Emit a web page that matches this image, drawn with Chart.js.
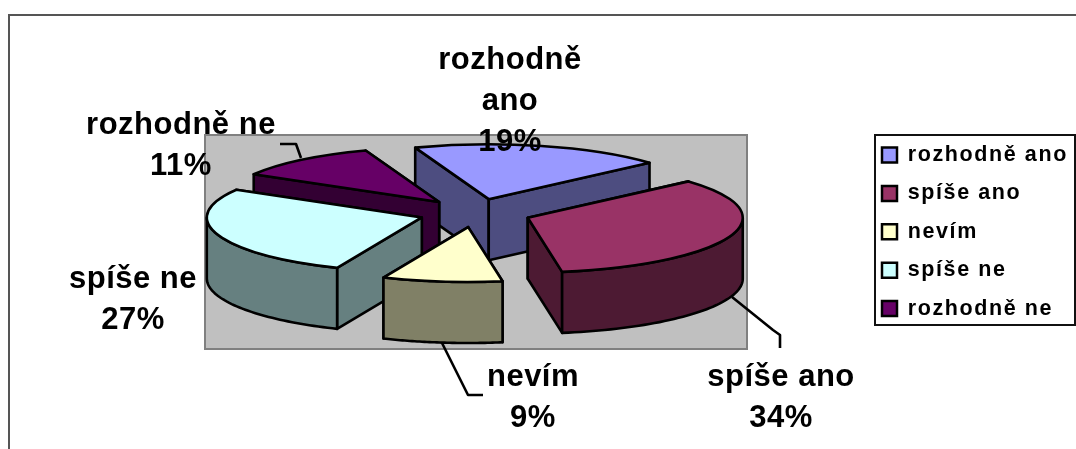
<!DOCTYPE html>
<html lang="cs">
<head>
<meta charset="utf-8">
<style>html,body{margin:0;padding:0;background:#fff}canvas{display:block}</style>
<script src="https://cdn.jsdelivr.net/npm/chart.js@4"></script>
</head>
<body>
<canvas id="c" width="1076" height="449"></canvas>
<script>
const categories = ['rozhodně ano', 'spíše ano', 'nevím', 'spíše ne', 'rozhodně ne'];
const percents = [19, 34, 9, 27, 11];
const topColors = ['#9999FF', '#993366', '#FFFFCC', '#CCFFFF', '#660066'];
const sideColors = ['#4D4D80', '#4D1A33', '#808066', '#668080', '#330033'];

// view of the tilted, exploded pie
const VIEW = { cx: 475, cy: 213, tilt: 0.255, radius: 215, explode: 56, depth: 61, rotation: -20 };
const FONT = '"Liberation Sans", Arial, sans-serif';
const labelLayout = [
  { x: 510, y: 60, lines: ['rozhodně', 'ano'] },
  { x: 781, y: 377, lines: ['spíše ano'] },
  { x: 533, y: 377, lines: ['nevím'] },
  { x: 133, y: 279, lines: ['spíše ne'] },
  { x: 181, y: 125, lines: ['rozhodně ne'] }
];
const leaders = [
  [[732, 297], [773, 330], [780, 335], [780, 348]],
  [[442, 343], [468, 395], [483, 395]],
  [[280, 144], [296, 144], [301, 158]]
];
const LINE = 2.6;

const k = VIEW.tilt;
const project = (x, y, drop) => [x, y * k + (drop || 0)];

function drawWall(ctx, arc, color) {
  const { x, y, startAngle: a0, endAngle: a1, outerRadius: r } = arc;
  ctx.fillStyle = color;
  ctx.strokeStyle = '#000';
  ctx.lineWidth = LINE;
  ctx.lineJoin = 'round';
  const poly = pts => {
    ctx.beginPath();
    pts.forEach((p, i) => i ? ctx.lineTo(p[0], p[1]) : ctx.moveTo(p[0], p[1]));
    ctx.closePath(); ctx.fill(); ctx.stroke();
  };
  // flat cut faces, the one further back first
  [a0, a1].sort((p, q) => Math.sin(p) - Math.sin(q)).forEach(a => {
    const rx = x + r * Math.cos(a), ry = y + r * Math.sin(a);
    poly([project(x, y), project(rx, ry), project(rx, ry, VIEW.depth), project(x, y, VIEW.depth)]);
  });
  // outer curved wall: only the part that faces the viewer
  for (const [lo, hi] of [[0, Math.PI], [2 * Math.PI, 3 * Math.PI]]) {
    const s = Math.max(a0, lo), e = Math.min(a1, hi);
    if (e <= s) continue;
    const top = [], bottom = [];
    for (let i = 0; i <= 48; i++) {
      const a = s + (e - s) * i / 48;
      const px = x + r * Math.cos(a), py = y + r * Math.sin(a);
      top.push(project(px, py));
      bottom.unshift(project(px, py, VIEW.depth));
    }
    poly(top.concat(bottom));
  }
}

const pie3d = {
  id: 'pie3d',
  afterLayout(chart) {
    chart.legend.left = 865.1;
    chart.legend.top = 127.35;
    chart.legend.right = 1076;
    chart.legend.bottom = 449;
  },
  afterDatasetsUpdate(chart) {
    chart.getDatasetMeta(0).data.forEach(arc => {
      const mid = (arc.startAngle + arc.endAngle) / 2;
      arc.x = VIEW.cx + VIEW.explode * Math.cos(mid);
      arc.y = VIEW.cy / k + VIEW.explode * Math.sin(mid);
    });
  },
  beforeDraw(chart) {
    const ctx = chart.ctx;
    // outer frame
    ctx.fillStyle = '#555';
    ctx.fillRect(8, 14, 1068, 2);
    ctx.fillRect(8, 14, 2, 435);
    // legend frame
    ctx.strokeStyle = '#111';
    ctx.lineWidth = 2;
    ctx.strokeRect(875, 135, 200, 190);
    ctx.letterSpacing = '1.6px';
  },
  beforeDatasetsDraw(chart) {
    const ctx = chart.ctx;
    ctx.letterSpacing = '0px';
    // plot wall
    ctx.fillStyle = '#C0C0C0';
    ctx.strokeStyle = '#808080';
    ctx.lineWidth = 2;
    ctx.fillRect(205, 135, 542, 214);
    ctx.strokeRect(205, 135, 542, 214);
    const arcs = chart.getDatasetMeta(0).data;
    arcs.map((arc, i) => ({ arc, i }))
      .sort((a, b) => a.arc.y - b.arc.y)
      .forEach(({ arc, i }) => drawWall(ctx, arc, sideColors[i]));
    ctx.save();
    ctx.scale(1, k);
  },
  afterDatasetsDraw(chart) {
    const ctx = chart.ctx;
    ctx.restore();
    ctx.strokeStyle = '#000';
    ctx.lineWidth = LINE;
    ctx.lineJoin = 'round';
    chart.getDatasetMeta(0).data.forEach(arc => {
      ctx.save();
      ctx.scale(1, k);
      ctx.beginPath();
      ctx.moveTo(arc.x, arc.y);
      ctx.arc(arc.x, arc.y, arc.outerRadius, arc.startAngle, arc.endAngle);
      ctx.closePath();
      ctx.restore();
      ctx.stroke();
    });
    leaders.forEach(l => {
      ctx.beginPath();
      l.forEach((p, i) => i ? ctx.lineTo(p[0], p[1]) : ctx.moveTo(p[0], p[1]));
      ctx.stroke();
    });
    ctx.fillStyle = '#000';
    ctx.font = 'bold 31px ' + FONT;
    ctx.textAlign = 'center';
    ctx.textBaseline = 'middle';
    ctx.letterSpacing = '0.5px';
    labelLayout.forEach((l, i) => {
      const lines = l.lines.concat([percents[i] + '%']);
      lines.forEach((t, j) => ctx.fillText(t, l.x, l.y + j * 41.3));
    });
    ctx.letterSpacing = '0px';
  }
};

new Chart(document.getElementById('c'), {
  type: 'pie',
  data: {
    labels: categories,
    datasets: [{ data: percents, backgroundColor: topColors, borderWidth: 0, clip: false }]
  },
  options: {
    responsive: false,
    animation: false,
    radius: VIEW.radius,
    rotation: VIEW.rotation,
    plugins: {
      tooltip: { enabled: false },
      legend: {
        position: 'right',
        align: 'start',
        labels: {
          boxWidth: 15,
          boxHeight: 15,
          padding: 16.9,
          color: '#000',
          font: { family: FONT, weight: 'bold', size: 21.5 },
          generateLabels(chart) {
            return Chart.overrides.doughnut.plugins.legend.labels.generateLabels(chart)
              .map(item => Object.assign(item, { strokeStyle: '#000', lineWidth: 2.5 }));
          }
        }
      }
    }
  },
  plugins: [pie3d]
});
</script>
</body>
</html>
